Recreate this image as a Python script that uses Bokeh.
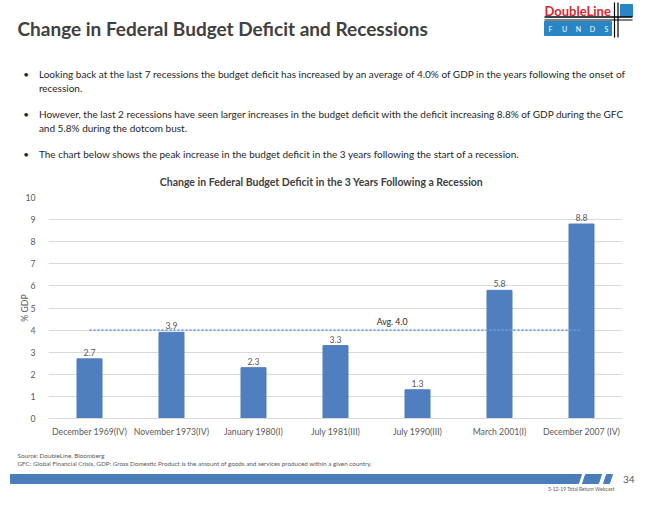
from bokeh.plotting import figure
from bokeh.models import Range1d, FixedTicker
from bokeh.core.properties import value
from bokeh.embed import file_html
from bokeh.resources import INLINE

# ---------------- data ----------------
categories = ["December 1969(IV)", "November 1973(IV)", "January 1980(I)",
              "July 1981(III)", "July 1990(III)", "March 2001(I)", "December 2007 (IV)"]
deficit_change = [2.7, 3.9, 2.3, 3.3, 1.3, 5.8, 8.8]
average_change = 4.0
y_ticks = [0, 1, 2, 3, 4, 5, 6, 7, 8, 9, 10]

slide_title = "Change in Federal Budget Deficit and Recessions"
bullets = [
    ["Looking back at the last 7 recessions the budget deficit has increased by an average of 4.0% of GDP in the years following the onset of",
     "recession."],
    ["However, the last 2 recessions have seen larger increases in the budget deficit with the deficit increasing 8.8% of GDP during the GFC",
     "and 5.8% during the dotcom bust."],
    ["The chart below shows the peak increase in the budget deficit in the 3 years following the start of a recession."],
]
chart_title = "Change in Federal Budget Deficit in the 3 Years Following a Recession"
y_label = "% GDP"
avg_label = "Avg. 4.0"
source_note = "Source: DoubleLine, Bloomberg"
gfc_note = "GFC: Global Financial Crisis, GDP: Gross Domestic Product is the amount of goods and services produced within a given country."
page_number = "34"
event_note = "3-12-19 Total Return Webcast"
logo_word = "DoubleLine"
logo_sub = ["F", "U", "N", "D", "S"]

# ---------------- style / layout ----------------
W = 659
HEAD_H, CHART_H, FOOT_H = 189, 251, 70
FONT = "Lato"
BAR = "#4f7fbf"
GRID = "#d9d9d9"
LBL = "#595959"
TXT = "#262626"


def deco_fig(y0, h):
    """Decoration figure whose data coordinates equal page pixels."""
    f = figure(width=W, height=h, x_range=Range1d(0, W), y_range=Range1d(y0 + h, y0),
               output_backend="svg", toolbar_location=None, min_border=0,
               x_axis_location=None, y_axis_location=None, title=None)
    f.grid.visible = False
    f.outline_line_color = None
    return f


def txt(f, x, y, text, size, color=TXT, align="left", baseline="middle", style="normal"):
    f.text(x=[x], y=[y], text=[text], text_font=value(FONT), text_font_size=f"{size}px",
           text_color=color, text_align=align, text_baseline=baseline, text_font_style=style)


# ---------------- header ----------------
h = deco_fig(0, HEAD_H)
txt(h, 17, 27.5, slide_title, 19, color="#404040", baseline="alphabetic", style="bold")

# logo
txt(h, 544, 10.5, logo_word, 13, color="#d7272f", style="bold")
h.quad(left=[544, 620], right=[611, 632], top=[21, 4], bottom=[35, 16], color="#2a85c7")
h.segment(x0=[544, 544], y0=[16.5, 19.5], x1=[632, 632], y1=[16.5, 19.5],
          line_color="black", line_width=[1.5, 1])
h.segment(x0=[614, 617.5], y0=[2, 2], x1=[614, 617.5], y1=[37, 37], line_color="black", line_width=1.2)
h.text(x=[550, 564, 578, 592, 606], y=[28.5] * 5, text=logo_sub, text_font=value(FONT),
       text_font_size="7px", text_color="white", text_baseline="middle", text_align="center")

# bullets
bullet_y = [[73.3, 87.3], [113.3, 127.3], [153.3]]
for lines, ys in zip(bullets, bullet_y):
    txt(h, 25.6, ys[0], "\u2022", 10, align="center")
    for line, yy in zip(lines, ys):
        txt(h, 38.4, yy, line, 10)

txt(h, 321, 181, chart_title, 10.5, color="#404040", align="center", style="bold")

# ---------------- chart ----------------
xs = list(range(len(categories)))
p = figure(width=W, height=CHART_H, x_range=Range1d(-0.5, len(categories) - 0.5),
           y_range=Range1d(y_ticks[0], y_ticks[-1]), title=None,
           min_border_left=48, min_border_right=37, min_border_top=8, min_border_bottom=22,
           output_backend="svg", toolbar_location=None)
p.outline_line_color = None
p.xgrid.visible = False
p.ygrid.ticker = FixedTicker(ticks=y_ticks)
p.ygrid.grid_line_color = GRID
p.yaxis.ticker = FixedTicker(ticks=y_ticks)
p.xaxis.ticker = FixedTicker(ticks=xs)
p.xaxis.major_label_overrides = {i: c for i, c in zip(xs, categories)}
for ax in (p.xaxis, p.yaxis):
    ax.major_tick_line_color = None
    ax.minor_tick_line_color = None
    ax.major_label_text_font = FONT
    ax.major_label_text_font_size = "8.7px"
    ax.major_label_text_color = LBL
p.xaxis.axis_line_color = GRID
p.yaxis.axis_line_color = None
p.xaxis.major_label_standoff = 1
p.yaxis.major_label_standoff = 7
p.yaxis.axis_label = y_label
p.yaxis.axis_label_text_font = FONT
p.yaxis.axis_label_text_font_style = "normal"
p.yaxis.axis_label_text_font_size = "8.7px"
p.yaxis.axis_label_text_color = LBL
p.yaxis.axis_label_standoff = -8

p.vbar(x=xs, top=deficit_change, width=0.305, color=BAR)
p.text(x=xs, y=deficit_change, text=[f"{v:.1f}" for v in deficit_change], text_font=value(FONT),
       text_font_size="8.7px", text_color=LBL, text_align="center", text_baseline="bottom", y_offset=-3)
p.line(x=[xs[0], xs[-1]], y=[average_change, average_change], line_color="#6f9fd8",
       line_width=1.6, line_dash="2 2")
p.text(x=[3.69], y=[average_change], text=[avg_label], text_font=value(FONT),
       text_font_size="8.7px", text_color=TXT, text_align="center", text_baseline="bottom", y_offset=-3)

# ---------------- footer ----------------
f = deco_fig(HEAD_H + CHART_H, FOOT_H)
txt(f, 17, 455, source_note, 6.3, color=LBL)
txt(f, 17, 463.3, gfc_note, 6.3, color=LBL)
f.patch(x=[10, 581, 578, 10], y=[474, 474, 483, 483], color="#4a7ebb")
f.patch(x=[585, 601, 598, 582], y=[474, 474, 483, 483], color="#4a7ebb")
f.patch(x=[606, 612, 609, 603], y=[474, 474, 483, 483], color="#4a7ebb")
txt(f, 622.5, 478.5, page_number, 10, color=LBL)
txt(f, 614, 488.5, event_note, 5, color=LBL, align="right")

open("out.html", "w").write(file_html([h, p, f], INLINE))
